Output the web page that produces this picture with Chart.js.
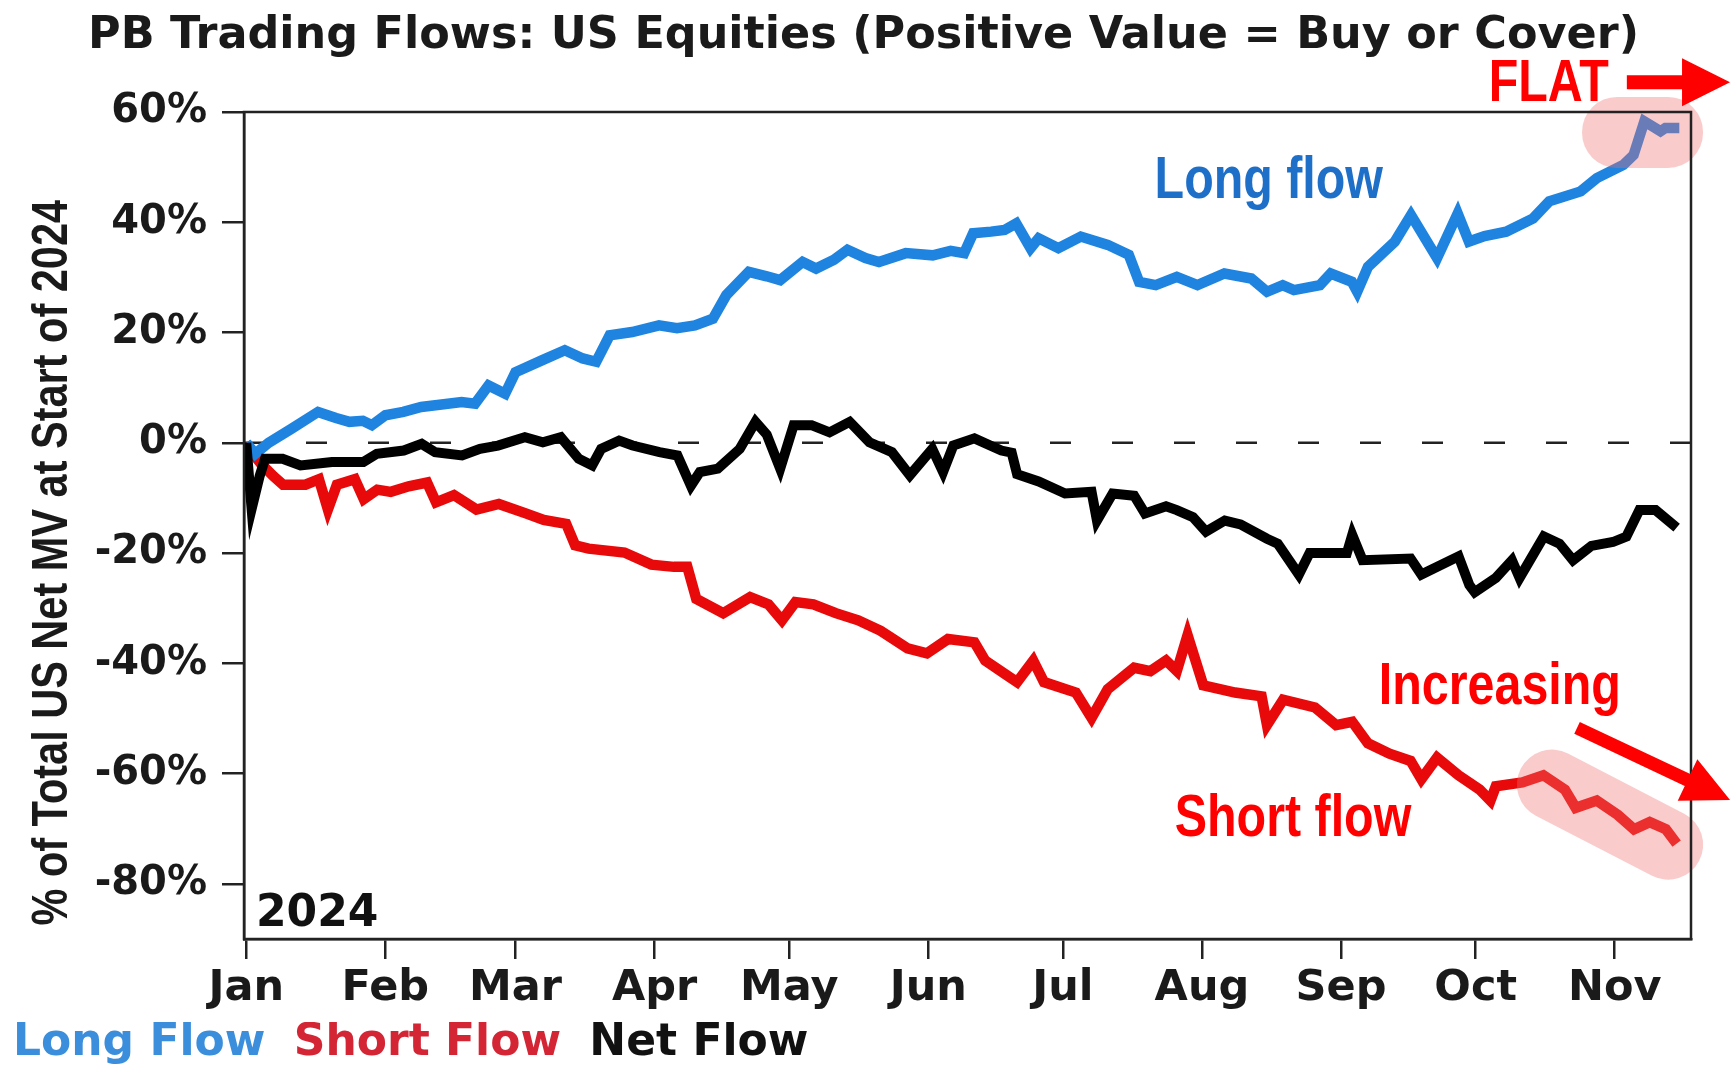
<!DOCTYPE html>
<html lang="en">
<head>
  <meta charset="UTF-8" />
  <title>PB Trading Flows: US Equities</title>
  <script src="https://cdn.jsdelivr.net/npm/chart.js"></script>
  <style>
    html, body { margin: 0; padding: 0; background: #fff; }
  </style>
</head>
<body>

  <canvas id="flowChart" width="1733" height="1068"></canvas>

  <script>
    // values; x = day of year (0 = Jan 1), y = % of net MV
    const longDays = [0, 2, 5, 10, 16, 20, 23, 26, 28, 31, 35, 39, 44, 48, 51, 54, 57.7, 60, 66, 71, 75, 78, 81, 86, 92, 96, 100, 104, 107, 112, 116, 119, 124, 127, 131, 134, 138, 141, 147, 153, 157, 160, 162, 166, 169, 171.6, 174.8, 176.6, 181, 186, 192, 196.7, 199, 202.7, 207.4, 212, 218, 224, 227.5, 231, 233.5, 239.3, 241.7, 246.4, 247.6, 250, 256, 259.6, 265.4, 270, 272.5, 276, 280.8, 286.8, 290.4, 297.4, 301, 306.9, 309.2, 311.6, 315.2, 316.3, 319.4];
    const longVals = [0, -2, 0, 2.5, 5.6, 4.5, 3.8, 4, 3.2, 5, 5.6, 6.5, 7, 7.4, 7.1, 10.4, 8.9, 12.8, 15, 16.8, 15.3, 14.7, 19.5, 20.1, 21.3, 20.8, 21.3, 22.5, 26.8, 31, 30.2, 29.5, 32.8, 31.6, 33.2, 35, 33.5, 32.8, 34.4, 34, 34.8, 34.4, 38, 38.3, 38.6, 39.8, 35.3, 37.1, 35.3, 37.4, 35.9, 34.1, 29.2, 28.6, 30.1, 28.6, 30.7, 29.8, 27.4, 28.6, 27.7, 28.6, 30.7, 29.2, 27.4, 31.9, 36.5, 41.3, 33.5, 41.6, 36.5, 37.5, 38.3, 40.7, 43.8, 45.6, 48, 50.4, 52.2, 58.3, 56.5, 57.1, 57.1];

    const shortDays = [0, 1.5, 3.2, 6, 8.2, 13.2, 16.2, 18.2, 20.2, 24.2, 26.2, 29.2, 32.2, 36.2, 40.3, 42.3, 46.3, 51.3, 56.3, 62.3, 66.3, 71.3, 73.3, 76.3, 84.3, 90.3, 95.3, 98.3, 100.3, 106.3, 112.3, 116.4, 119.4, 122.4, 126.4, 131.4, 136.4, 141.4, 147.4, 151.7, 156.4, 162.3, 164.7, 169.4, 171.8, 175.4, 177.8, 184.9, 188.4, 192, 197.9, 201.5, 205, 207.4, 209.8, 213.3, 220.4, 226.3, 227.5, 231.1, 238.2, 242.9, 246.5, 250, 254.8, 259.5, 261.9, 265.4, 270.2, 274.9, 277.3, 278.5, 284.4, 289.1, 293.9, 296.3, 301, 305.7, 309.3, 312.8, 316.4, 318.8];
    const shortVals = [0, -2, -3.7, -6, -7.6, -7.6, -6.6, -12.1, -7.6, -6.6, -10.2, -8.5, -8.9, -7.9, -7.2, -10.8, -9.5, -12.1, -11.1, -12.8, -14, -14.7, -18.6, -19.2, -19.9, -22.1, -22.5, -22.5, -28.3, -30.9, -28, -29.3, -32.2, -28.9, -29.3, -30.9, -32.2, -34.1, -37.3, -38.2, -35.6, -36.2, -39.5, -42.1, -43.4, -39.5, -43.4, -45.3, -49.9, -44.7, -40.8, -41.4, -39.5, -41.4, -34.9, -44, -45.3, -46, -51.2, -46.6, -48, -51.2, -50.6, -54.5, -56.4, -57.7, -61, -57.1, -60.3, -62.9, -64.9, -62.3, -61.6, -60.3, -62.9, -66.2, -64.9, -67.5, -70.1, -68.8, -70.1, -72.7];

    const netDays = [0, 1.2, 3, 4.2, 8.1, 12.1, 19.1, 26.1, 29.1, 35.1, 39.1, 42.1, 48.1, 52.1, 56.1, 62.1, 66.1, 70.1, 74.1, 77.1, 79.1, 83.1, 86.1, 92.1, 96.1, 99.1, 101.1, 105.1, 110, 113.5, 116, 119, 122, 126, 130, 134.5, 138.9, 143.9, 147.9, 152.9, 155.3, 157.6, 162.3, 168.3, 170.6, 171.8, 176.6, 182.5, 188.4, 189.6, 193.1, 197.9, 200.3, 205, 207.4, 211, 213.9, 218.1, 221.6, 227.5, 229.9, 234.6, 237, 245.3, 246.5, 248.8, 259.5, 261.9, 270.2, 272.6, 273.8, 278.5, 282.1, 283.8, 289.2, 292.7, 295.7, 299.8, 304.6, 307.6, 310.5, 314.1, 318.8];
    const netVals = [0, -12, -6, -2.9, -2.9, -4.1, -3.5, -3.5, -2, -1.4, -0.2, -1.7, -2.3, -1.1, -0.5, 1, 0.1, 1, -2.9, -4.1, -1.1, 0.4, -0.5, -1.7, -2.3, -7.8, -5.3, -4.7, -1.1, 3.8, 1.5, -4.7, 3.2, 3.2, 1.9, 3.8, 0.1, -1.7, -5.9, -1.1, -5.3, -0.5, 0.8, -1.4, -1.8, -5.7, -7, -9.2, -8.9, -14.1, -9.2, -9.6, -12.8, -11.5, -12.2, -13.5, -16.1, -14.1, -14.8, -17.4, -18.3, -23.9, -20, -20, -16.7, -21.3, -21, -23.9, -20.6, -25.8, -27.1, -24.5, -21.3, -24.5, -17, -18.3, -21.3, -18.7, -18, -17, -12.2, -12.2, -15.4];

    const monthDays = [0, 31, 60, 91, 121, 152, 182, 213, 244, 274, 305];
    const monthNames = ['Jan', 'Feb', 'Mar', 'Apr', 'May', 'Jun', 'Jul', 'Aug', 'Sep', 'Oct', 'Nov'];
    const yTicks = [60, 40, 20, 0, -20, -40, -60, -80];

    const toPoints = (days, vals) => days.map((d, i) => ({ x: d, y: vals[i] }));

    const BLUE = '#1e84e0';
    const RED = '#e80a0a';
    const legendColors = ['#3a8edb', '#d42535', '#111111'];

    // condensed bold text (no narrow face installed, so squeeze Liberation Sans)
    function narrowText(ctx, text, x, y, size, color) {
      ctx.save();
      ctx.translate(x, y);
      ctx.scale(0.82, 1);
      ctx.font = 'bold ' + size + 'px "Liberation Sans"';
      ctx.fillStyle = color;
      ctx.textAlign = 'center';
      ctx.textBaseline = 'middle';
      ctx.fillText(text, 0, 0);
      ctx.restore();
    }

    function arrow(ctx, x1, y1, x2, y2, shaftHalf, headLen, headHalf) {
      const a = Math.atan2(y2 - y1, x2 - x1);
      const len = Math.hypot(x2 - x1, y2 - y1);
      ctx.save();
      ctx.translate(x1, y1);
      ctx.rotate(a);
      ctx.beginPath();
      ctx.moveTo(0, -shaftHalf);
      ctx.lineTo(len - headLen, -shaftHalf);
      ctx.lineTo(len - headLen, -headHalf);
      ctx.lineTo(len, 0);
      ctx.lineTo(len - headLen, headHalf);
      ctx.lineTo(len - headLen, shaftHalf);
      ctx.lineTo(0, shaftHalf);
      ctx.closePath();
      ctx.fillStyle = '#ff0000';
      ctx.fill();
      ctx.restore();
    }

    const decor = {
      id: 'decor',
      beforeDatasetsDraw(chart) {
        const { ctx, chartArea: a, scales: { y } } = chart;
        const y0 = y.getPixelForValue(0);
        ctx.save();
        ctx.strokeStyle = '#222';
        ctx.lineWidth = 2.5;
        ctx.setLineDash([21, 41]);
        ctx.beginPath();
        ctx.moveTo(a.left, y0);
        ctx.lineTo(a.right, y0);
        ctx.stroke();
        ctx.restore();
      },
      afterDatasetsDraw(chart) {
        const { ctx, chartArea: a, scales: { x, y } } = chart;
        const px = d => x.getPixelForValue(d);
        const py = v => y.getPixelForValue(v);
        ctx.save();

        // pink highlights
        ctx.fillStyle = 'rgba(240, 110, 110, 0.36)';
        ctx.beginPath();
        ctx.roundRect(px(311.2) - 60.5, py(56.3) - 35.5, 121, 71, 35);
        ctx.fill();

        const cx1 = px(291), cy1 = py(-62), cx2 = px(316.9), cy2 = py(-72.9);
        const ang = Math.atan2(cy2 - cy1, cx2 - cx1);
        const segLen = Math.hypot(cx2 - cx1, cy2 - cy1);
        ctx.save();
        ctx.translate((cx1 + cx2) / 2, (cy1 + cy2) / 2);
        ctx.rotate(ang);
        ctx.beginPath();
        ctx.roundRect(-segLen / 2 - 35, -35, segLen + 70, 70, 35);
        ctx.fill();
        ctx.restore();

        // plot frame
        ctx.strokeStyle = '#222';
        ctx.lineWidth = 2.5;
        ctx.strokeRect(a.left, a.top, a.right - a.left, a.bottom - a.top);

        // year tag
        ctx.fillStyle = '#111';
        ctx.font = 'bold 44px "DejaVu Sans"';
        ctx.textAlign = 'left';
        ctx.textBaseline = 'middle';
        ctx.fillText('2024', a.left + 12, a.bottom - 24);

        // annotations
        narrowText(ctx, 'Long flow', px(227.9), py(47.3), 59, '#1e6fc8');
        narrowText(ctx, 'Short flow', px(233.3), py(-68.4), 59, '#ff0000');
        narrowText(ctx, 'Increasing', px(279.4), py(-44.5), 59, '#ff0000');
        narrowText(ctx, 'FLAT', px(290.3), py(64.9), 59, '#ff0000');

        arrow(ctx, px(307.7), py(65.4), px(330.7), py(65.4), 7, 48, 24);
        arrow(ctx, px(296.6), py(-51.7), px(330.7), py(-64.8), 6.5, 47, 23);
        ctx.restore();
      },
      afterDraw(chart) {
        const { ctx, chartArea: a } = chart;
        ctx.save();
        ctx.fillStyle = '#1a1a1a';
        ctx.font = 'bold 44.5px "DejaVu Sans"';
        ctx.textAlign = 'center';
        ctx.textBaseline = 'middle';
        ctx.fillText('PB Trading Flows: US Equities (Positive Value = Buy or Cover)', chart.width / 2 - 3, 36);

        ctx.translate(53, a.top + (a.bottom - a.top) * 0.545);
        ctx.rotate(-Math.PI / 2);
        ctx.scale(0.83, 1);
        ctx.font = 'bold 50px "Liberation Sans"';
        ctx.fillText('% of Total US Net MV at Start of 2024', 0, 0);
        ctx.restore();
      }
    };

    const ctx = document.getElementById('flowChart').getContext('2d');
    new Chart(ctx, {
      type: 'line',
      data: {
        datasets: [
          {
            label: 'Long Flow',
            data: toPoints(longDays, longVals),
            borderColor: BLUE,
            borderWidth: 10.5,
            pointRadius: 0,
            order: 1
          },
          {
            label: 'Short Flow',
            data: toPoints(shortDays, shortVals),
            borderColor: RED,
            borderWidth: 10.5,
            pointRadius: 0,
            order: 2
          },
          {
            label: 'Net Flow',
            data: toPoints(netDays, netVals),
            borderColor: '#000',
            borderWidth: 10,
            pointRadius: 0,
            order: 0
          }
        ]
      },
      options: {
        responsive: false,
        animation: false,
        layout: { padding: { top: 112, right: 42, left: 0, bottom: -8 } },
        scales: {
          x: {
            type: 'linear',
            min: -0.5,
            max: 322,
            afterBuildTicks: s => { s.ticks = monthDays.map(v => ({ value: v })); },
            afterFit: s => { s.height = 83; },
            ticks: {
              callback: (v, i) => monthNames[i],
              autoSkip: false,
              maxRotation: 0,
              padding: 4,
              color: '#1a1a1a',
              font: { family: 'DejaVu Sans', weight: 'bold', size: 43 }
            },
            grid: { drawOnChartArea: false, tickLength: 20, color: '#222', lineWidth: 2.5 },
            border: { display: true, color: '#222', width: 2.5 }
          },
          y: {
            min: -90,
            max: 60,
            afterBuildTicks: s => { s.ticks = yTicks.map(v => ({ value: v })); },
            afterFit: s => { s.width = 244; },
            ticks: {
              callback: v => v + '%',
              padding: 15,
              color: '#1a1a1a',
              font: { family: 'DejaVu Sans', weight: 'bold', size: 40 }
            },
            grid: { drawOnChartArea: false, tickLength: 22, color: '#222', lineWidth: 2.5 },
            border: { display: true, color: '#222', width: 2.5 }
          }
        },
        plugins: {
          tooltip: { enabled: false },
          legend: {
            position: 'bottom',
            align: 'start',
            labels: {
              boxWidth: -9,
              boxHeight: 0,
              padding: 0,
              font: { family: 'DejaVu Sans', weight: 'bold', size: 44 },
              generateLabels: chart => chart.data.datasets.map((ds, i) => ({
                text: ds.label + ' ',
                fontColor: legendColors[i],
                fillStyle: 'rgba(0,0,0,0)',
                strokeStyle: 'rgba(0,0,0,0)',
                lineWidth: 0,
                hidden: false,
                datasetIndex: i
              }))
            }
          }
        }
      },
      plugins: [decor]
    });
  </script>

</body>
</html>
